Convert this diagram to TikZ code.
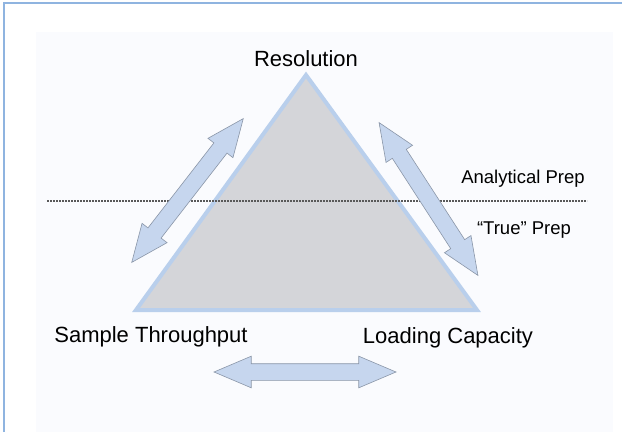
\documentclass[tikz,border=0pt]{standalone}
\usepackage{fontspec}
\setmainfont{Liberation Sans}
\usetikzlibrary{shapes.arrows,positioning}

\definecolor{framblue}{HTML}{8FB4E0}
\definecolor{panelwhite}{HTML}{FAFBFE}
\definecolor{edgeblue}{HTML}{B9CFEC}
\definecolor{trigray}{HTML}{D4D5D9}
\definecolor{arrowblue}{HTML}{C6D6EE}
\definecolor{arrowline}{HTML}{8A96A8}

\tikzset{
  biglabel/.style={font=\fontsize{22}{26}\selectfont, inner sep=0pt},
  smalllabel/.style={font=\fontsize{18.5}{22}\selectfont, inner sep=0pt},
  tradearrow/.style={double arrow, draw=arrowline, fill=arrowblue, line width=0.6pt,
    minimum height=182pt, minimum width=0pt, inner xsep=0pt, inner ysep=8pt,
    double arrow head extend=7.5pt, double arrow tip angle=46},
}

\begin{document}
\begin{tikzpicture}[x=1pt,y=1pt]
\useasboundingbox (0,0) rectangle (622,432);
\fill[panelwhite] (36,0) rectangle (613,400);
\draw[framblue, line width=1.5pt] (4,0) -- (4,429) -- (622,429);

% triangle
\coordinate (apex) at (306,357);
\coordinate (baseL) at (136,122);
\coordinate (baseR) at (477,122);
\draw[edgeblue, fill=trigray, line width=4pt] (apex) -- (baseL) -- (baseR) -- cycle;

% corner labels
\node[biglabel, above=8pt of apex] (res) {Resolution};
\node[biglabel] (thru) at (151,95) {Sample Throughput};
\node[biglabel] (load) at (448,94) {Loading Capacity};

% prep boundary
\coordinate (sepL) at (47,231);
\coordinate (sepR) at (587,231);
\draw[black!65, line width=2pt, dash pattern=on 1.6pt off 1.4pt] (sepL) -- (sepR);
\node[smalllabel] (anaprep) at (523,253) {Analytical Prep};
\node[smalllabel] (trueprep) at (524,202) {``True'' Prep};

% trade-off arrows
\node[tradearrow, rotate=52.2] (arrL) at (187.5,241.5) {};
\node[tradearrow, rotate=-57.1] (arrR) at (428.5,233) {};
\node[tradearrow] (arrB) at (305,60) {};
\end{tikzpicture}
\end{document}
